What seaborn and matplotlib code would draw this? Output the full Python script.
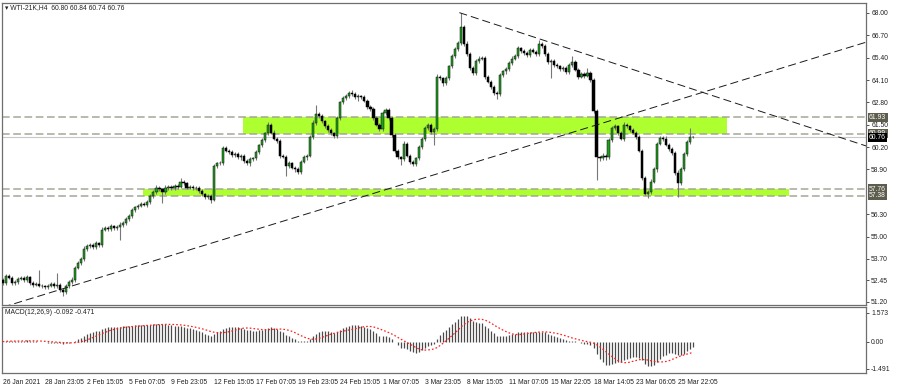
import numpy as np
import pandas as pd
import matplotlib
matplotlib.use("Agg")
import matplotlib.pyplot as plt
import seaborn as sns

# ---------------- data ----------------
closes = [
    52.30, 52.70, 52.60, 52.30, 52.35, 52.55, 52.60, 52.45, 52.65, 52.30,
    52.20, 52.25, 52.15, 52.10, 52.05, 52.15, 52.25, 52.10, 52.20, 51.90,
    51.75, 52.15, 52.35, 52.50, 53.20, 53.45, 53.70, 54.30, 54.45, 54.50,
    54.40, 54.60, 54.50, 55.40, 55.50, 55.45, 55.60, 55.50, 55.55, 55.70,
    55.80, 56.00, 56.20, 56.55, 56.70, 56.80, 56.90, 56.85, 57.00, 57.35,
    57.60, 57.85, 57.75, 57.60, 57.85, 57.90, 57.80, 57.95, 57.90, 58.20,
    58.10, 57.85, 57.90, 57.80, 57.85, 57.65, 57.45, 57.30, 57.35, 57.15,
    59.10, 59.25, 59.30, 60.15, 60.00, 59.90, 59.75, 59.80, 59.60, 59.70,
    59.40, 59.25, 59.50, 59.55, 59.90, 60.30, 60.60, 61.00, 61.50, 61.05,
    60.70, 60.55, 59.70, 59.65, 59.10, 59.25, 59.00, 58.90, 58.75, 59.35,
    59.60, 59.70, 60.80, 61.60, 62.10, 62.00, 61.70, 61.45, 61.20, 61.00,
    60.85, 61.90, 62.80, 63.05, 63.20, 63.35, 63.30, 63.10, 63.15, 63.10,
    62.90, 62.55, 62.40, 61.90, 61.50, 61.25, 62.20, 62.35, 61.90, 60.90,
    60.00, 59.60, 59.50, 60.40, 59.70, 59.35, 59.20, 59.55, 60.20, 60.70,
    61.30, 61.50, 61.10, 61.25, 64.30, 64.20, 63.90, 64.20, 64.90, 65.50,
    65.90, 66.25, 67.20, 66.20, 65.60, 64.80, 64.50, 65.20, 65.35, 65.40,
    64.30, 64.00, 63.70, 63.35, 63.30, 64.40, 64.60, 64.75, 65.10, 65.35,
    65.50, 65.95, 65.80, 65.70, 65.55, 65.85, 65.75, 65.60, 66.20, 66.10,
    65.60, 65.15, 65.20, 65.00, 64.90, 64.75, 64.80, 64.55, 64.95, 65.15,
    64.70, 64.30, 64.45, 64.35, 64.50, 64.10, 62.30, 59.60, 59.55, 59.70,
    59.60, 60.60, 61.30, 61.40, 61.00, 60.70, 61.50, 61.40, 61.20, 61.05,
    60.80, 60.00, 58.40, 57.50, 57.60, 58.20, 58.90, 60.40, 60.75, 60.70,
    60.35, 60.10, 59.85, 58.70, 58.10, 58.90, 59.80, 60.50, 60.80, 60.76,
]
first_open = 52.45

# wick lengths in hundredths of a dollar
wick_up = [
    12, 10, 10, 8, 10, 12, 8, 10, 12, 8,
    10, 10, 80, 8, 10, 10, 12, 8, 70, 10,
    8, 10, 10, 12, 10, 12, 10, 15, 10, 12,
    10, 12, 10, 15, 12, 10, 12, 10, 10, 12,
    10, 12, 10, 12, 10, 10, 12, 10, 10, 12,
    10, 12, 10, 10, 12, 10, 10, 12, 10, 20,
    10, 10, 12, 10, 10, 8, 10, 10, 12, 10,
    12, 10, 10, 12, 10, 10, 12, 10, 10, 12,
    10, 10, 12, 10, 12, 10, 12, 10, 15, 12,
    12, 10, 10, 12, 10, 12, 10, 10, 12, 10,
    12, 10, 12, 15, 55, 12, 10, 10, 12, 10,
    10, 12, 10, 12, 10, 12, 20, 10, 12, 10,
    12, 10, 10, 12, 10, 10, 12, 10, 12, 10,
    12, 10, 10, 15, 10, 12, 10, 10, 12, 10,
    12, 10, 12, 10, 15, 12, 10, 12, 10, 12,
    10, 12, 80, 12, 15, 12, 10, 15, 12, 10,
    12, 10, 10, 12, 10, 12, 10, 12, 10, 12,
    10, 12, 10, 12, 10, 12, 10, 10, 25, 12,
    10, 12, 10, 12, 10, 10, 12, 10, 12, 35,
    12, 10, 12, 10, 30, 12, 10, 12, 10, 15,
    12, 15, 12, 15, 10, 12, 15, 12, 10, 12,
    10, 12, 10, 12, 10, 12, 15, 12, 10, 12,
    12, 10, 12, 10, 15, 12, 10, 12, 50, 4,
]
wick_dn = [
    10, 12, 8, 12, 10, 8, 10, 12, 8, 10,
    12, 8, 10, 10, 12, 10, 8, 10, 10, 12,
    20, 10, 12, 10, 12, 10, 12, 10, 12, 10,
    12, 10, 12, 10, 10, 12, 10, 12, 10, 75,
    12, 10, 10, 12, 10, 12, 10, 10, 12, 10,
    12, 10, 10, 65, 10, 12, 10, 10, 12, 10,
    12, 10, 10, 12, 10, 12, 10, 12, 10, 20,
    10, 12, 10, 12, 10, 12, 10, 12, 10, 12,
    12, 10, 12, 10, 12, 10, 12, 10, 12, 10,
    10, 12, 12, 10, 60, 12, 10, 12, 10, 12,
    10, 12, 10, 12, 10, 12, 10, 12, 10, 12,
    12, 10, 12, 10, 10, 12, 10, 12, 20, 12,
    10, 12, 10, 12, 10, 12, 10, 12, 10, 12,
    12, 10, 35, 12, 10, 12, 12, 10, 12, 10,
    12, 10, 12, 80, 12, 10, 12, 10, 12, 10,
    12, 10, 12, 10, 12, 10, 12, 10, 12, 10,
    12, 10, 12, 10, 30, 12, 10, 12, 10, 12,
    10, 12, 10, 12, 10, 12, 10, 12, 10, 12,
    12, 10, 95, 12, 10, 12, 10, 12, 10, 12,
    10, 12, 10, 12, 10, 12, 10, 130, 15, 12,
    12, 10, 12, 10, 12, 10, 12, 10, 12, 10,
    12, 10, 12, 10, 25, 12, 10, 12, 10, 12,
    10, 12, 10, 12, 80, 12, 10, 12, 10, 2,
]

date_labels = ["26 Jan 2021", "28 Jan 23:05", "2 Feb 15:05", "5 Feb 07:05",
               "9 Feb 23:05", "12 Feb 15:05", "17 Feb 07:05", "19 Feb 23:05",
               "24 Feb 15:05", "1 Mar 07:05", "3 Mar 23:05", "8 Mar 15:05",
               "11 Mar 07:05", "15 Mar 22:05", "18 Mar 14:05", "23 Mar 06:05",
               "25 Mar 22:05"]
bars_per_label = 14

price_ticks = [68.00, 66.70, 65.40, 64.10, 62.80, 61.50, 60.20, 58.90,
               56.30, 55.00, 53.70, 52.45, 51.20]
level_lines = [61.93, 60.99, 57.76, 57.38]
zones = [(79.7, 240.3, 60.99, 61.93), (46.5, 260.9, 57.38, 57.76)]
trend_lines = [((0.0, 50.89), (286.4, 66.30)), ((151.5, 68.02), (286.4, 60.27))]
current_price = 60.76
macd_ticks = [1.573, 0.0, -1.491]
macd_tick_labels = ["1.573", "0.00", "-1.491"]
title_text = "\u25BE WTI-21K,H4  60.80 60.84 60.74 60.76"
macd_text = "MACD(12,26,9) -0.092 -0.471"

# ---------------- derived series ----------------
n = len(closes)
idx = np.arange(n)
c = np.array(closes)
o = np.concatenate([[first_open], c[:-1]])
h = np.maximum(o, c) + np.array(wick_up) / 100.0
l = np.minimum(o, c) - np.array(wick_dn) / 100.0

s = pd.Series(c)
macd_main = s.ewm(span=12, adjust=False).mean() - s.ewm(span=26, adjust=False).mean()
macd_signal = macd_main.rolling(9, min_periods=1).mean()
df_macd = pd.DataFrame({"bar": idx, "main": macd_main.values, "signal": macd_signal.values})

# ---------------- styling ----------------
sns.set_style("white")
plt.rcParams["font.family"] = ["Liberation Sans", "DejaVu Sans"]
plt.rcParams["lines.scale_dashes"] = False
FS = 4.9

W, H = 900, 387
fig = plt.figure(figsize=(9.0, 3.87), dpi=100)
ax1 = fig.add_axes([2 / W, 1 - 305 / H, 864 / W, 302 / H])
ax2 = fig.add_axes([2 / W, 1 - 373 / H, 864 / W, 66 / H])

xlim = (-0.23, 286.4)
frame_col = "#6e6e6e"
for ax in (ax1, ax2):
    ax.set_xlim(*xlim)
    for sp in ax.spines.values():
        sp.set_color(frame_col)
        sp.set_linewidth(0.9)
    ax.yaxis.tick_right()
    ax.tick_params(axis="y", direction="out", length=2.5, width=0.6,
                   labelsize=FS, pad=1.2, colors="#333333", labelcolor="#222222")
    ax.set_facecolor("white")

ax1.set_ylim(51.02, 68.58)

# zones (background)
zone_col = "#adff2f"
for x0, x1, y0, y1 in zones:
    ax1.fill_between([x0, x1], y0, y1, color=zone_col, lw=0, zorder=1)

# horizontal level lines
for lv in level_lines:
    ax1.axhline(lv, color="#a5a597", lw=1.1, ls=(0, (5.5, 2.6)), zorder=2)
ax1.axhline(current_price, color="#c8c8c8", lw=0.8, zorder=2)

# candles
bull = c >= o
ax1.vlines(idx, l, h, color="#777777", lw=0.8, zorder=3)
body_h = np.maximum(np.abs(c - o), 0.03)
body_b = np.minimum(o, c)
ax1.bar(idx[bull], body_h[bull], bottom=body_b[bull], width=0.72,
        color="#1f9e1f", edgecolor="#111111", linewidth=0.35, zorder=4)
ax1.bar(idx[~bull], body_h[~bull], bottom=body_b[~bull], width=0.72,
        color="#000000", edgecolor="#000000", linewidth=0.35, zorder=4)

# trend lines
for (xa, ya), (xb, yb) in trend_lines:
    ax1.plot([xa, xb], [ya, yb], color="#1a1a1a", lw=0.7,
             ls=(0, (5.8, 2.9)), zorder=5, clip_on=True)

ax1.set_yticks(price_ticks)
ax1.set_yticklabels([f"{v:.2f}" for v in price_ticks])
ax1.set_xticks([])

# price boxes on the right scale
box_col = "#5d5d4d"
tr = ax1.get_yaxis_transform()
for lv in level_lines:
    ax1.text(1.0035, lv, f"{lv:.2f}", transform=tr, ha="left", va="center",
             fontsize=FS, color="white", zorder=10, clip_on=False,
             bbox=dict(boxstyle="square,pad=0.2", fc=box_col, ec="none"))
ax1.text(1.0035, current_price, f"{current_price:.2f}", transform=tr, ha="left",
         va="center", fontsize=FS, color="white", zorder=11, clip_on=False,
         bbox=dict(boxstyle="square,pad=0.2", fc="black", ec="none"))

# ---------------- MACD panel ----------------
ax2.set_ylim(-1.72, 1.90)
ax2.vlines(df_macd["bar"], 0, df_macd["main"], color="#4a4a4a", lw=0.9, zorder=3)
sns.lineplot(data=df_macd, x="bar", y="signal", ax=ax2, color="#ff2020",
             lw=0.9, ls=(0, (1.2, 1.5)), zorder=4, legend=False)
ax2.set_xlim(*xlim)
ax2.set_xlabel("")
ax2.set_ylabel("")
ax2.set_yticks(macd_ticks)
ax2.set_yticklabels(macd_tick_labels)
ax2.set_xticks([k * bars_per_label for k in range(len(date_labels))])
ax2.set_xticklabels(date_labels)
ax2.tick_params(axis="x", direction="out", length=2.5, width=0.6, labelsize=FS,
                pad=1.5, colors="#333333", labelcolor="#222222")
for lab in ax2.get_xticklabels():
    lab.set_horizontalalignment("left")
ax1.set_ylabel("")

# texts
fig.text(5 / W, 1 - 8 / H, title_text, fontsize=FS, color="#222222",
         ha="left", va="center")
fig.text(5 / W, 1 - 313 / H, macd_text, fontsize=FS, color="#222222",
         ha="left", va="center")

fig.savefig("out.png", dpi=100)
